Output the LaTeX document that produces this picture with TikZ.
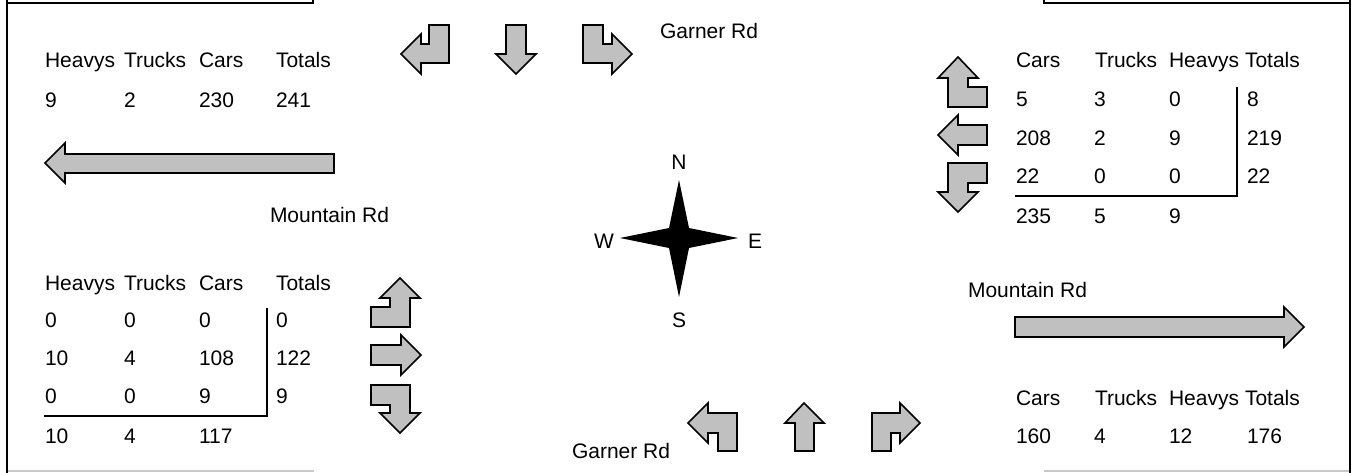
\documentclass[tikz,border=0pt]{standalone}
\usepackage{fontspec}
\setmainfont{Liberation Sans}
\definecolor{arrowgray}{RGB}{192,192,192}
\definecolor{edgegray}{RGB}{200,200,200}
\begin{document}
\begin{tikzpicture}[x=1pt,y=-1pt,
  arr/.style={draw=black, fill=arrowgray, line width=1.6pt, line join=miter},
  txt/.style={anchor=base west, inner sep=0pt, outer sep=0pt, font=\fontsize{21}{25}\selectfont},
  ctxt/.style={anchor=base, inner sep=0pt, outer sep=0pt, font=\fontsize{21}{25}\selectfont},
  rule/.style={draw=black, line width=2pt},
  frame/.style={draw=black, line width=2.5pt},
  bottomedge/.style={draw=edgegray, line width=2pt}]
\useasboundingbox (0,0) rectangle (1356,473);

% frame pieces
\coordinate (tl0) at (7,0); \coordinate (tl1) at (7,473);
\draw[frame] (tl0) -- (tl1);
\coordinate (tr0) at (1350,0); \coordinate (tr1) at (1350,473);
\draw[frame] (tr0) -- (tr1);
\coordinate (ta) at (7,3); \coordinate (tb) at (313,3); \coordinate (tc) at (313,0);
\draw[line width=2pt] (ta) -- (tb) -- (tc);
\coordinate (td) at (1044,0); \coordinate (te) at (1044,3); \coordinate (tf) at (1350,3);
\draw[line width=2pt] (td) -- (te) -- (tf);
\coordinate (ba) at (8,471); \coordinate (bb) at (314,471);
\draw[bottomedge] (ba) -- (bb);
\coordinate (bc) at (1044,471); \coordinate (bd) at (1349,471);
\draw[bottomedge] (bc) -- (bd);

% ---------- top-left table ----------
\node[txt] (tlh1) at (45,68) {Heavys};
\node[txt] (tlh2) at (124,68) {Trucks};
\node[txt] (tlh3) at (199,68) {Cars};
\node[txt] (tlh4) at (276,68) {Totals};
\node[txt] (tlv1) at (45,108) {9};
\node[txt] (tlv2) at (124,108) {2};
\node[txt] (tlv3) at (199,108) {230};
\node[txt] (tlv4) at (276,108) {241};
% big west arrow
\draw[arr] (45,163) -- (65,143) -- (65,154) -- (334,154) -- (334,173) -- (65,173) -- (65,183) -- cycle;
\node[txt] (mtn1) at (270,222) {Mountain Rd};

% ---------- top arrows ----------
\draw[arr] (429,25) -- (449,25) -- (449,63) -- (421,63) -- (421,74) -- (401,54) -- (421,34) -- (421,44) -- (429,44) -- cycle;
\draw[arr] (506,25) -- (526,25) -- (526,54) -- (536,54) -- (516,74) -- (496,54) -- (506,54) -- cycle;
\draw[arr] (583,25) -- (603,25) -- (603,44) -- (612,44) -- (612,34) -- (632,54) -- (612,74) -- (612,63) -- (583,63) -- cycle;
\node[txt] (garn1) at (660,39) {Garner Rd};

% ---------- top-right table ----------
\node[txt] (trh1) at (1016,68) {Cars};
\node[txt] (trh2) at (1095,68) {Trucks};
\node[txt] (trh3) at (1169,68) {Heavys};
\node[txt] (trh4) at (1245,68) {Totals};
\node[txt] (tra1) at (1016,107) {5};
\node[txt] (tra2) at (1094,107) {3};
\node[txt] (tra3) at (1169,107) {0};
\node[txt] (tra4) at (1247,107) {8};
\node[txt] (trb1) at (1016,146) {208};
\node[txt] (trb2) at (1094,146) {2};
\node[txt] (trb3) at (1169,146) {9};
\node[txt] (trb4) at (1247,146) {219};
\node[txt] (trc1) at (1016,183) {22};
\node[txt] (trc2) at (1094,183) {0};
\node[txt] (trc3) at (1169,183) {0};
\node[txt] (trc4) at (1247,183) {22};
\node[txt] (trd1) at (1016,223) {235};
\node[txt] (trd2) at (1094,223) {5};
\node[txt] (trd3) at (1169,223) {9};
\coordinate (trl0) at (1015,196); \coordinate (trl1) at (1237,196); \coordinate (trl2) at (1237,87);
\draw[rule] (trl0) -- (trl1) -- (trl2);
% right-side arrows
\draw[arr] (958,57) -- (978,78) -- (968,78) -- (968,87) -- (987,87) -- (987,107) -- (948,107) -- (948,78) -- (938,78) -- cycle;
\draw[arr] (938,135) -- (958,115) -- (958,125) -- (987,125) -- (987,145) -- (958,145) -- (958,155) -- cycle;
\draw[arr] (948,163) -- (987,163) -- (987,183) -- (968,183) -- (968,192) -- (978,192) -- (958,212) -- (938,192) -- (948,192) -- cycle;

% ---------- compass ----------
\fill[black] (679,180) -- (689,228) -- (738,238) -- (689,248) -- (679,297) -- (669,248) -- (620,238) -- (669,228) -- cycle;
\node[ctxt] (cN) at (679,170) {N};
\node[ctxt] (cW) at (604,248) {W};
\node[ctxt] (cE) at (755,248) {E};
\node[ctxt] (cS) at (679,327) {S};

% ---------- bottom-left table ----------
\node[txt] (blh1) at (45,290) {Heavys};
\node[txt] (blh2) at (124,290) {Trucks};
\node[txt] (blh3) at (199,290) {Cars};
\node[txt] (blh4) at (276,290) {Totals};
\node[txt] (bla1) at (45,327) {0};
\node[txt] (bla2) at (124,327) {0};
\node[txt] (bla3) at (199,327) {0};
\node[txt] (bla4) at (276,327) {0};
\node[txt] (blb1) at (45,365) {10};
\node[txt] (blb2) at (124,365) {4};
\node[txt] (blb3) at (199,365) {108};
\node[txt] (blb4) at (276,365) {122};
\node[txt] (blc1) at (45,403) {0};
\node[txt] (blc2) at (124,403) {0};
\node[txt] (blc3) at (199,403) {9};
\node[txt] (blc4) at (276,403) {9};
\node[txt] (bld1) at (45,443) {10};
\node[txt] (bld2) at (124,443) {4};
\node[txt] (bld3) at (199,443) {117};
\coordinate (bll0) at (44,416); \coordinate (bll1) at (267,416); \coordinate (bll2) at (267,308);
\draw[rule] (bll0) -- (bll1) -- (bll2);
% left-side arrows
\draw[arr] (400,278) -- (420,298) -- (410,298) -- (410,327) -- (371,327) -- (371,307) -- (390,307) -- (390,298) -- (380,298) -- cycle;
\draw[arr] (371,345) -- (401,345) -- (401,335) -- (421,355) -- (401,375) -- (401,365) -- (371,365) -- cycle;
\draw[arr] (371,385) -- (410,385) -- (410,413) -- (420,413) -- (400,433) -- (380,413) -- (390,413) -- (390,405) -- (371,405) -- cycle;

% ---------- bottom arrows ----------
\node[txt] (garn2) at (572,458) {Garner Rd};
\draw[arr] (688,423) -- (708,403) -- (708,413) -- (737,413) -- (737,451) -- (718,451) -- (718,433) -- (708,433) -- (708,443) -- cycle;
\draw[arr] (804,403) -- (824,423) -- (814,423) -- (814,451) -- (795,451) -- (795,423) -- (785,423) -- cycle;
\draw[arr] (872,451) -- (872,413) -- (900,413) -- (900,403) -- (920,423) -- (900,443) -- (900,433) -- (891,433) -- (891,451) -- cycle;

% ---------- bottom-right table ----------
\node[txt] (mtn2) at (968,297) {Mountain Rd};
\draw[arr] (1015,317) -- (1284,317) -- (1284,307) -- (1304,327) -- (1284,347) -- (1284,337) -- (1015,337) -- cycle;
\node[txt] (brh1) at (1016,405) {Cars};
\node[txt] (brh2) at (1095,405) {Trucks};
\node[txt] (brh3) at (1169,405) {Heavys};
\node[txt] (brh4) at (1245,405) {Totals};
\node[txt] (brv1) at (1016,443) {160};
\node[txt] (brv2) at (1094,443) {4};
\node[txt] (brv3) at (1169,443) {12};
\node[txt] (brv4) at (1247,443) {176};
\end{tikzpicture}
\end{document}
